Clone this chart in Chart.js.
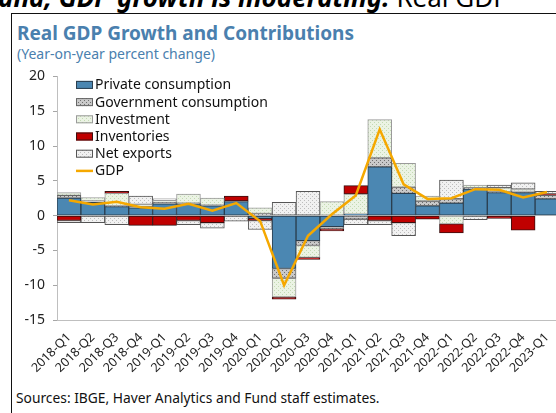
<!DOCTYPE html>
<html>
<head>
<meta charset="utf-8">
<script src="https://cdn.jsdelivr.net/npm/chart.js@4.4.1/dist/chart.umd.min.js"></script>
<style>
    html, body {
        margin: 0;
        padding: 0;
        width: 556px;
        height: 413px;
        overflow: hidden;
        background: #fff;
        font-family: 'Noto Sans', sans-serif;
    }
    .headline {
        position: absolute;
        left: -2px;
        top: -18px;
        white-space: nowrap;
        font-size: 26px;
        line-height: 30px;
        color: #000;
    }
    .headline b { font-style: italic; }
    .frame {
        position: absolute;
        left: 11px;
        top: 13px;
        width: 600px;
        height: 500px;
        border-left: 1.5px solid #111;
        border-top: 1.5px solid #111;
    }
    .title {
        position: absolute;
        left: 17px;
        top: 20px;
        font-size: 19px;
        font-weight: bold;
        color: #4a80ae;
        white-space: nowrap;
    }
    .subtitle {
        position: absolute;
        left: 17px;
        top: 44px;
        font-size: 14px;
        color: #4a80ae;
        white-space: nowrap;
    }
    .source {
        position: absolute;
        left: 16px;
        top: 388px;
        font-size: 13.8px;
        color: #111;
        white-space: nowrap;
    }
    .chart-box {
        position: absolute;
        left: 0;
        top: 60px;
        width: 572px;
        height: 320px;
    }
</style>
</head>
<body>
<div class="headline"><b>and, GDP growth is moderating.</b> Real GDP</div>
<div class="frame"></div>
<div class="title">Real GDP Growth and Contributions</div>
<div class="subtitle">(Year-on-year percent change)</div>
<div class="chart-box"><canvas id="gdpChart"></canvas></div>
<div class="source">Sources: IBGE, Haver Analytics and Fund staff estimates.</div>

<script>
// Data
const quarters = ['2018-Q1', '2018-Q2', '2018-Q3', '2018-Q4', '2019-Q1', '2019-Q2', '2019-Q3', '2019-Q4',
    '2020-Q1', '2020-Q2', '2020-Q3', '2020-Q4', '2021-Q1', '2021-Q2', '2021-Q3', '2021-Q4',
    '2022-Q1', '2022-Q2', '2022-Q3', '2022-Q4', '2023-Q1'];
const privateConsumption = [2.5, 1.9, 1.3, 1.1, 1.7, 1.7, 1.4, 2.0, -0.4, -7.6, -3.6, -1.6, 0.2, 7.0, 3.2, 1.4, 1.8, 3.8, 3.3, 3.3, 2.4];
const governmentConsumption = [0.4, 0.2, 0.1, 0.2, 0.2, 0.1, 0.1, 0.1, 0.3, -1.4, -0.7, -0.3, -0.5, 1.3, 0.9, 0.7, 0.6, 0.2, 0.1, 0.2, 0.5];
const investment = [0.4, 0.5, 1.8, 0.3, 0.3, 1.3, 1.0, 0.0, 0.8, -2.7, -1.7, 2.0, 2.9, 5.5, 3.4, 0.7, -1.2, 0.4, 0.6, 0.3, 0.0];
const inventories = [-0.7, 0.0, 0.3, -1.4, -1.4, -0.7, -1.0, 0.7, -0.3, -0.3, -0.3, -0.3, 1.2, -0.7, -1.0, -0.5, -1.3, 0.0, -0.4, -2.1, 0.2];
const netExports = [-0.3, -1.0, -1.3, 1.2, 0.2, -0.6, -0.8, -0.8, -1.3, 1.9, 3.5, 0.0, -0.8, -0.6, -1.9, 0.0, 2.7, -0.6, 0.4, 0.9, 0.4];
const gdp = [2.2, 1.6, 2.0, 1.2, 1.0, 1.7, 0.7, 1.8, -0.8, -10.0, -2.9, 0.2, 2.9, 12.4, 4.5, 2.4, 2.5, 3.8, 3.7, 2.6, 3.4];
const yTicks = [-15, -10, -5, 0, 5, 10, 15, 20];

const fontFamily = "'Noto Sans', sans-serif";

// small dotted fills like the original hatching
function makePattern(bg, dot) {
    const c = document.createElement('canvas');
    c.width = 4;
    c.height = 4;
    const cx = c.getContext('2d');
    cx.fillStyle = bg;
    cx.fillRect(0, 0, 4, 4);
    cx.fillStyle = dot;
    cx.fillRect(0, 0, 1, 1);
    cx.fillRect(2, 2, 1, 1);
    return cx.createPattern(c, 'repeat');
}

const govFill = makePattern('#c9c9c9', '#6f6f6f');
const invFill = makePattern('#ebf3e4', '#c3dab3');
const netFill = makePattern('#f1f1f1', '#bdbdbd');

// legend drawn inside the plot area, top-left
const insideLegend = {
    id: 'insideLegend',
    afterDatasetsDraw(chart) {
        const ctx = chart.ctx;
        const area = chart.chartArea;
        const x0 = area.left + 19;
        let y = area.top + 8.5;
        ctx.save();
        ctx.font = '14px ' + fontFamily;
        ctx.textBaseline = 'middle';
        chart.data.datasets.forEach(ds => {
            if (ds.type === 'line') {
                ctx.strokeStyle = ds.borderColor;
                ctx.lineWidth = 2.5;
                ctx.beginPath();
                ctx.moveTo(x0, y);
                ctx.lineTo(x0 + 17, y);
                ctx.stroke();
            } else {
                ctx.fillStyle = ds.backgroundColor;
                ctx.fillRect(x0, y - 4, 17, 8);
                ctx.strokeStyle = ds.borderColor;
                ctx.lineWidth = 1;
                ctx.strokeRect(x0 + 0.5, y - 3.5, 16, 7);
            }
            ctx.fillStyle = '#111';
            ctx.fillText(ds.label, x0 + 19, y + 0.5);
            y += 17.2;
        });
        ctx.restore();
    }
};

function barSet(label, data, fill, border) {
    return {
        type: 'bar',
        label: label,
        data: data,
        backgroundColor: fill,
        borderColor: border,
        borderWidth: 1,
        borderSkipped: false,
        barPercentage: 1,
        categoryPercentage: 1,
        stack: 'parts',
        order: 1
    };
}

const ctx = document.getElementById('gdpChart');
new Chart(ctx, {
    data: {
        labels: quarters,
        datasets: [
            barSet('Private consumption', privateConsumption, '#4b87b2', '#2b3e4e'),
            barSet('Government consumption', governmentConsumption, govFill, '#666666'),
            barSet('Investment', investment, invFill, '#9a9a9a'),
            barSet('Inventories', inventories, '#c00000', '#3a1010'),
            barSet('Net exports', netExports, netFill, '#555555'),
            {
                type: 'line',
                label: 'GDP',
                data: gdp,
                borderColor: '#f5a800',
                backgroundColor: '#f5a800',
                borderWidth: 2.5,
                pointRadius: 0,
                tension: 0,
                stack: 'gdp',
                order: 0
            }
        ]
    },
    options: {
        responsive: true,
        maintainAspectRatio: false,
        animation: false,
        layout: { padding: { left: 0, right: 13, top: 2, bottom: 0 } },
        plugins: {
            legend: { display: false },
            tooltip: { enabled: false }
        },
        scales: {
            x: {
                stacked: true,
                grid: { display: false },
                border: { display: true, color: '#bfbfbf', width: 1 },
                ticks: {
                    autoSkip: false,
                    minRotation: 45,
                    maxRotation: 45,
                    padding: 2,
                    color: '#222',
                    font: { family: fontFamily, size: 12.5 }
                },
                afterFit: s => { s.height = 60; }
            },
            y: {
                stacked: true,
                min: -15,
                max: 20,
                z: 1,
                afterBuildTicks: s => { s.ticks = yTicks.map(v => ({ value: v })); },
                grid: {
                    drawOnChartArea: true,
                    color: c => (c.tick && c.tick.value === 0) ? 'rgba(210,210,210,0.8)' : 'rgba(0,0,0,0)',
                    tickColor: '#a6a6a6',
                    tickLength: 4
                },
                border: { display: true, color: '#bfbfbf', width: 1 },
                ticks: {
                    padding: 8,
                    color: '#222',
                    font: { family: fontFamily, size: 14 }
                },
                afterFit: s => { s.width = 57; }
            }
        }
    },
    plugins: [insideLegend]
});
</script>
</body>
</html>
